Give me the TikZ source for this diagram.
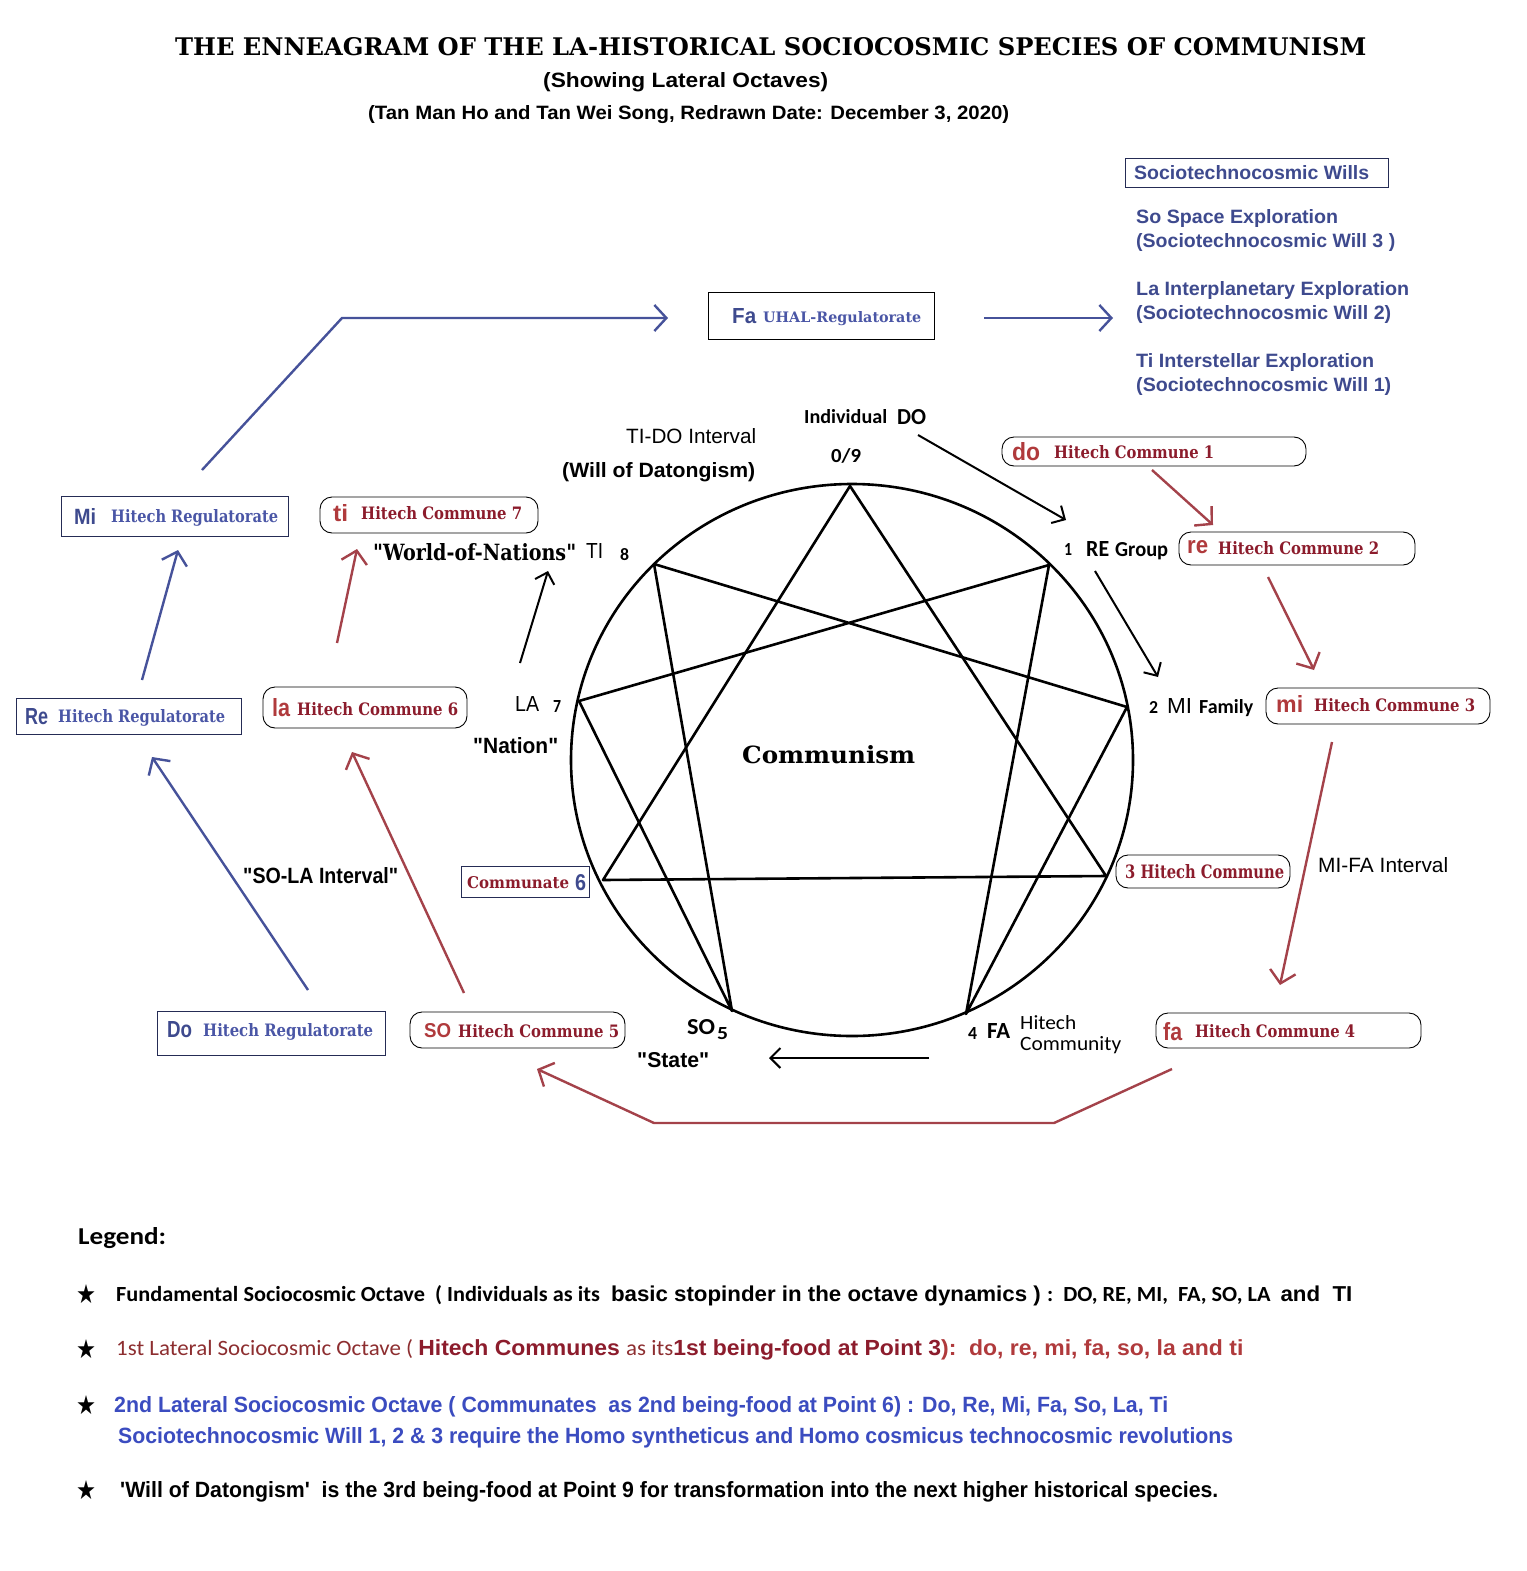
\documentclass[tikz,border=0pt]{standalone}
\usepackage{fontspec}
\usepackage{graphicx}
\setmainfont{Liberation Sans}
\newfontfamily\slabfont{DejaVu Serif}
\newfontfamily\calfont{Carlito}
\newfontfamily\symfont{DejaVu Sans}
\usetikzlibrary{arrows.meta}

\definecolor{regblue}{HTML}{3E4A8E}
\definecolor{hrblue}{HTML}{4A56A6}
\definecolor{lineblue}{HTML}{46529A}
\definecolor{comred}{HTML}{8C1C2C}
\definecolor{notered}{HTML}{B03A3C}
\definecolor{linered}{HTML}{A4424A}
\definecolor{legblue}{HTML}{3B4CC0}

\newcommand{\sized}[3]{\resizebox{#1pt}{#2pt}{#3}}

\tikzset{
  txt/.style={inner sep=0pt, anchor=base west},
  regbox/.style={draw=regblue!60!black, line width=1pt, inner sep=0pt},
  combox/.style={draw=black, line width=0.9pt, rounded corners=12pt, inner sep=0pt},
  blkarrow/.style={draw=black, line width=2pt, -{Straight Barb[length=10pt,width=20pt]}},
  bluearrow/.style={draw=lineblue, line width=2.4pt, -{Straight Barb[length=12pt,width=26pt]}},
  redarrow/.style={draw=linered, line width=2.4pt, -{Straight Barb[length=12pt,width=26pt]}},
  legstar/.style={inner sep=0pt, font=\symfont}
}

\begin{document}
\begin{tikzpicture}[x=1pt,y=-1pt]
\fill[white] (0,0) rectangle (1526,1571);
\useasboundingbox (0,0) rectangle (1526,1571);

\node[txt] (title) at (175,56) {\sized{1191}{18}{\slabfont\bfseries THE ENNEAGRAM OF THE LA-HISTORICAL SOCIOCOSMIC SPECIES OF COMMUNISM}};
\node[txt] (subtitle) at (543,88) {\sized{285}{15}{\bfseries (Showing Lateral Octaves)}};
\node[txt] (authors) at (368,119) {\sized{641}{14}{\bfseries (Tan Man Ho and Tan Wei Song, Redrawn Date: December 3, 2020)}};

\node[regbox, minimum width=263pt, minimum height=29pt] (wills) at (1256.5,172.5) {};
\node[txt, regblue] (wills-t) at (1134,179) {\sized{235}{14}{\bfseries Sociotechnocosmic Wills}};
\node[txt, regblue] (so-will) at (1136,223) {\sized{202}{14}{\bfseries So Space Exploration}};
\node[txt, regblue] (so-will2) at (1136,247) {\sized{259}{14}{\bfseries (Sociotechnocosmic Will 3 )}};
\node[txt, regblue] (la-will) at (1136,295) {\sized{273}{14}{\bfseries La Interplanetary Exploration}};
\node[txt, regblue] (la-will2) at (1136,319) {\sized{255}{14}{\bfseries (Sociotechnocosmic Will 2)}};
\node[txt, regblue] (ti-will) at (1136,367) {\sized{238}{14}{\bfseries Ti Interstellar Exploration}};
\node[txt, regblue] (ti-will2) at (1136,391) {\sized{255}{14}{\bfseries (Sociotechnocosmic Will 1)}};

\node[regbox, draw=black, minimum width=226pt, minimum height=47pt] (fa-reg) at (821,315.5) {};
\node[txt, regblue] (fa-reg-n) at (732,323) {\sized{24}{15}{\bfseries Fa}};
\node[txt, hrblue] (fa-reg-t) at (763,322) {\sized{158}{11}{\slabfont\bfseries UHAL-Regulatorate}};

\node[regbox, minimum width=227pt, minimum height=40pt] (mi-reg) at (174.5,516) {};
\node[txt, regblue] (mi-reg-n) at (74,524) {\sized{22}{16}{\bfseries Mi}};
\node[txt, hrblue] (mi-reg-t) at (111,522) {\sized{167}{13}{\slabfont\bfseries Hitech Regulatorate}};
\node[regbox, minimum width=225pt, minimum height=36pt] (re-reg) at (128.5,716) {};
\node[txt, regblue] (re-reg-n) at (25,724) {\sized{23}{16}{\bfseries Re}};
\node[txt, hrblue] (re-reg-t) at (58,722) {\sized{167}{13}{\slabfont\bfseries Hitech Regulatorate}};
\node[regbox, minimum width=228pt, minimum height=44pt] (do-reg) at (271,1033) {};
\node[txt, regblue] (do-reg-n) at (167,1037) {\sized{25}{16}{\bfseries Do}};
\node[txt, hrblue] (do-reg-t) at (203,1036) {\sized{170}{13}{\slabfont\bfseries Hitech Regulatorate}};

\node[combox, minimum width=218pt, minimum height=36pt] (ti-com) at (429,515) {};
\node[txt, notered] (ti-com-n) at (333,521) {\sized{15}{17}{\bfseries ti}};
\node[txt, comred] (ti-com-t) at (361,519) {\sized{161}{13}{\slabfont\bfseries Hitech Commune 7}};
\node[combox, minimum width=204pt, minimum height=41pt] (la-com) at (365,707.5) {};
\node[txt, notered] (la-com-n) at (272,716) {\sized{18}{18}{\bfseries la}};
\node[txt, comred] (la-com-t) at (297,715) {\sized{161}{13}{\slabfont\bfseries Hitech Commune 6}};
\node[combox, minimum width=215pt, minimum height=36pt] (so-com) at (517.5,1030) {};
\node[txt, notered] (so-com-n) at (424,1037) {\sized{27}{14}{\bfseries SO}};
\node[txt, comred] (so-com-t) at (458,1037) {\sized{161}{13}{\slabfont\bfseries Hitech Commune 5}};
\node[combox, minimum width=304pt, minimum height=29pt] (do-com) at (1154,451.5) {};
\node[txt, notered] (do-com-n) at (1012,460) {\sized{28}{18}{\bfseries do}};
\node[txt, comred] (do-com-t) at (1054,458) {\sized{160}{13}{\slabfont\bfseries Hitech Commune 1}};
\node[combox, minimum width=236pt, minimum height=33pt] (re-com) at (1297,548.5) {};
\node[txt, notered] (re-com-n) at (1187,553) {\sized{21}{13}{\bfseries re}};
\node[txt, comred] (re-com-t) at (1218,554) {\sized{161}{13}{\slabfont\bfseries Hitech Commune 2}};
\node[combox, minimum width=224pt, minimum height=36pt] (mi-com) at (1378,706) {};
\node[txt, notered] (mi-com-n) at (1276,712) {\sized{27}{17}{\bfseries mi}};
\node[txt, comred] (mi-com-t) at (1314,711) {\sized{161}{13}{\slabfont\bfseries Hitech Commune 3}};
\node[combox, minimum width=174pt, minimum height=33pt] (three-com) at (1203,871.5) {};
\node[txt, comred] (three-com-t) at (1125,878) {\sized{159}{14}{\slabfont\bfseries 3 Hitech Commune}};
\node[combox, minimum width=265pt, minimum height=35pt] (fa-com) at (1288.5,1030.5) {};
\node[txt, notered] (fa-com-n) at (1163,1040) {\sized{19}{18}{\bfseries fa}};
\node[txt, comred] (fa-com-t) at (1195,1037) {\sized{160}{13}{\slabfont\bfseries Hitech Commune 4}};
\node[regbox, minimum width=128pt, minimum height=31pt] (communate) at (525,881.5) {};
\node[txt, comred] (communate-t) at (467,888) {\sized{102}{12}{\slabfont\bfseries Communate}};
\node[txt, regblue] (communate-n) at (575,890) {\sized{11}{16}{\bfseries 6}};

\draw[line width=2.6pt] (852,760) ellipse [x radius=281pt, y radius=276pt];
\foreach \n/\x/\y in {9/850/486,1/1049/565,2/1127/707,3/1106/876,4/966/1014,5/732/1011,6/603/880,7/579/701,8/654/564}
  \coordinate (p\n) at (\x,\y);
\draw[line width=2.6pt, line join=round] (p9) -- (p3) -- (p6) -- cycle;
\draw[line width=2.6pt, line join=round] (p1) -- (p4) -- (p2) -- (p8) -- (p5) -- (p7) -- cycle;
\node[txt] (communism) at (742,763) {\sized{173}{18}{\slabfont\bfseries Communism}};

\node[txt] (individual) at (804,423) {\sized{83}{14}{\calfont\bfseries Individual}};
\node[txt] (do-pt) at (897,424) {\sized{29}{15}{\calfont\bfseries DO}};
\node[txt] (pt9) at (831,462) {\sized{30}{14}{\calfont\bfseries 0/9}};
\node[txt] (tido) at (626,443) {\sized{130}{15}{TI-DO Interval}};
\node[txt] (datong) at (562,477) {\sized{193}{15}{\bfseries (Will of Datongism)}};
\node[txt] (pt1) at (1064,555) {\sized{8}{12}{\calfont\bfseries 1}};
\node[txt] (re-pt) at (1086,556) {\sized{23}{15}{\calfont\bfseries RE}};
\node[txt] (group) at (1115,556) {\sized{53}{14}{\calfont\bfseries Group}};
\node[txt] (pt2) at (1149,713) {\sized{9}{12}{\calfont\bfseries 2}};
\node[txt] (mi-pt) at (1167,713) {\sized{25}{15}{MI}};
\node[txt] (family) at (1199,713) {\sized{54}{14}{\calfont\bfseries Family}};
\node[txt] (mifa) at (1318,872) {\sized{130}{15}{MI-FA Interval}};
\node[txt] (pt4) at (968,1039) {\sized{9}{12}{\calfont\bfseries 4}};
\node[txt] (fa-pt) at (987,1038) {\sized{23}{15}{\calfont\bfseries FA}};
\node[txt] (hitech) at (1020,1029) {\sized{56}{14}{\calfont Hitech}};
\node[txt] (community) at (1020,1050) {\sized{101}{14}{\calfont Community}};
\node[txt] (so-pt) at (687,1034) {\sized{28}{15}{\calfont\bfseries SO}};
\node[txt] (pt5) at (717,1039) {\sized{11}{12}{\calfont\bfseries 5}};
\node[txt] (state) at (637,1067) {\sized{72}{15}{\bfseries \textquotedbl State\textquotedbl}};
\node[txt] (world) at (373,560) {\sized{203}{17}{\slabfont\bfseries \textquotedbl World-of-Nations\textquotedbl}};
\node[txt] (ti-pt) at (586,558) {\sized{17}{15}{TI}};
\node[txt] (pt8) at (620,560) {\sized{9}{12}{\calfont\bfseries 8}};
\node[txt] (la-pt) at (515,711) {\sized{24}{15}{LA}};
\node[txt] (pt7) at (553,712) {\sized{8}{12}{\calfont\bfseries 7}};
\node[txt] (nation) at (473,753) {\sized{85}{16}{\bfseries \textquotedbl Nation\textquotedbl}};
\node[txt] (sola) at (243,883) {\sized{155}{16}{\bfseries \textquotedbl SO-LA Interval\textquotedbl}};

\coordinate (do-out) at (202,470);
\coordinate (fa-bend) at (342,318);
\coordinate (fa-in) at (668,318);
\coordinate (fa-out) at (984,318);
\coordinate (wills-in) at (1113,318);
\coordinate (re-out) at (142,680);
\coordinate (mi-in) at (178,550);
\coordinate (do-reg-out) at (308,990);
\coordinate (re-in) at (152,757);
\draw[bluearrow] (do-out) -- (fa-bend) -- (fa-in);
\draw[bluearrow] (fa-out) -- (wills-in);
\draw[bluearrow] (re-out) -- (mi-in);
\draw[bluearrow] (do-reg-out) -- (re-in);

\coordinate (dc-out) at (1152,470);
\coordinate (rc-in) at (1213,525);
\coordinate (rc-out) at (1268,577);
\coordinate (mc-in) at (1314,670);
\coordinate (mc-out) at (1332,742);
\coordinate (fc-in) at (1280,985);
\coordinate (fc-out) at (1172,1069);
\coordinate (fc-bend) at (1054,1123);
\coordinate (sc-bend) at (654,1123);
\coordinate (sc-in) at (537,1069);
\coordinate (sc-out) at (464,993);
\coordinate (lc-in) at (352,752);
\coordinate (lc-out) at (337,643);
\coordinate (tc-in) at (357,549);
\draw[redarrow] (dc-out) -- (rc-in);
\draw[redarrow] (rc-out) -- (mc-in);
\draw[redarrow] (mc-out) -- (fc-in);
\draw[redarrow] (fc-out) -- (fc-bend) -- (sc-bend) -- (sc-in);
\draw[redarrow] (sc-out) -- (lc-in);
\draw[redarrow] (lc-out) -- (tc-in);

\coordinate (ind-out) at (918,435);
\coordinate (re-pt-in) at (1066,520);
\coordinate (re-pt-out) at (1095,571);
\coordinate (mi-pt-in) at (1158,677);
\coordinate (fa-pt-out) at (929,1058);
\coordinate (so-pt-in) at (769,1058);
\coordinate (la-pt-out) at (520,663);
\coordinate (ti-pt-in) at (548,571);
\draw[blkarrow] (ind-out) -- (re-pt-in);
\draw[blkarrow] (re-pt-out) -- (mi-pt-in);
\draw[blkarrow] (fa-pt-out) -- (so-pt-in);
\draw[blkarrow] (la-pt-out) -- (ti-pt-in);

\node[txt] (legend) at (78,1244) {\sized{88}{17}{\calfont\bfseries Legend:}};
\foreach \y/\n in {1294/1,1349/2,1405/3,1490/4}
  \node[legstar] (star\n) at (86,\y) {\sized{20}{19}{★}};
\node[txt] (leg1) at (116,1301) {\sized{1236}{16}{{\calfont\bfseries Fundamental Sociocosmic Octave\ \ ( Individuals as its\ } \bfseries basic stopinder in the octave dynamics ) {\calfont :\ \ DO, RE, MI,\ \ FA, SO, LA\ \ }and\ \ TI}};
\node[txt] (leg2) at (116,1355) {\sized{1127}{16}{{\calfont\color{notered!80!black}1st Lateral Sociocosmic Octave ( }{\bfseries\color{comred}Hitech Communes\ }{\calfont\color{notered!80!black} as its}{\bfseries\color{comred}1st being-food at Point 3}{\bfseries\color{notered}):\ \ do, re, mi, fa, so, la and ti}}};
\node[txt, legblue] (leg3) at (114,1412) {\sized{1054}{16}{\bfseries 2nd Lateral Sociocosmic Octave ( Communates\ \ as 2nd being-food at Point 6) : Do, Re, Mi, Fa, So, La, Ti}};
\node[txt, legblue] (leg3b) at (118,1443) {\sized{1115}{16}{\bfseries Sociotechnocosmic Will 1, 2 \& 3 require the Homo syntheticus and Homo cosmicus technocosmic revolutions}};
\node[txt] (leg4) at (120,1497) {\sized{1098}{16}{\bfseries \textquotesingle Will of Datongism\textquotesingle\ \ is the 3rd being-food at Point 9 for transformation into the next higher historical species.}};
\end{tikzpicture}
\end{document}
